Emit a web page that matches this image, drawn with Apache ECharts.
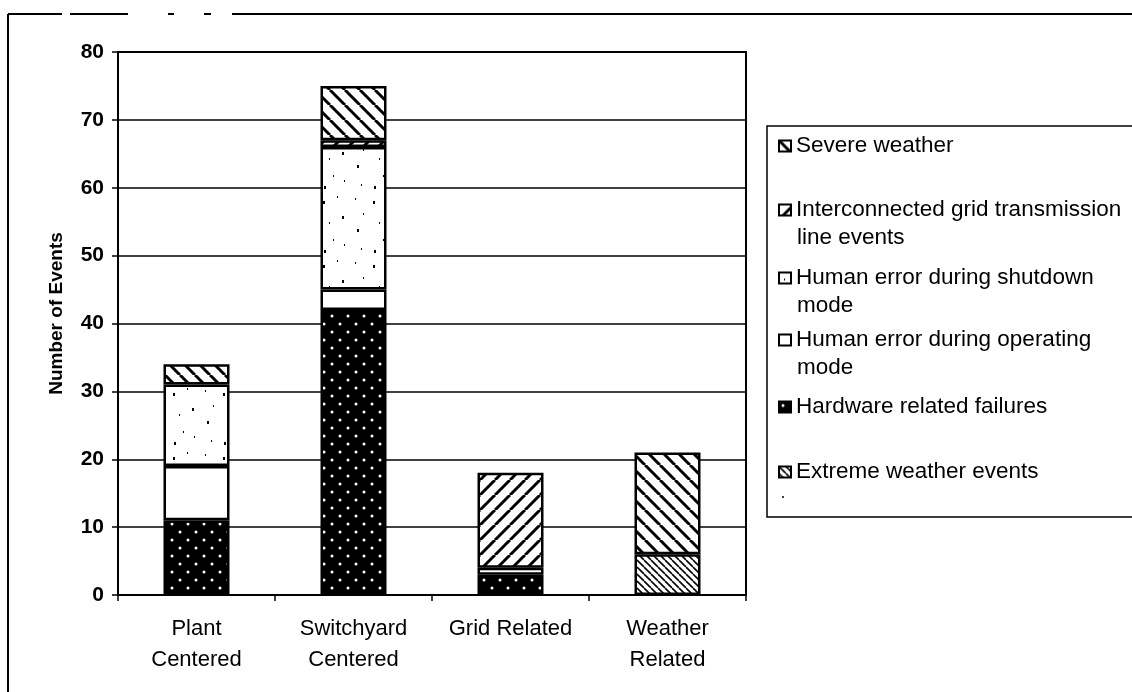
<!DOCTYPE html>
<html>
<head>
<meta charset="utf-8">
<script src="https://cdn.jsdelivr.net/npm/echarts@6/dist/echarts.min.js"></script>
<style>
  html, body { margin: 0; padding: 0; background: #fff; }
  #chart { width: 1132px; height: 692px; }
</style>
</head>
<body>
<div id="chart"></div>
<script>
// Event counts by root-cause group, stacked from the bottom up.
const categories = ['Plant\nCentered', 'Switchyard\nCentered', 'Grid Related', 'Weather\nRelated'];
const extremeWeather   = [0, 0, 0, 6];
const hardwareFailures = [11, 42, 3, 0];
const humanOperating   = [8, 3, 1, 0];
const humanShutdown    = [12, 21, 0, 0];
const gridTransmission = [0, 1, 14, 0];
const severeWeather    = [3, 8, 0, 15];
const yTickLabels = ['0', '10', '20', '30', '40', '50', '60', '70', '80'];

const FONT = '"Liberation Sans", Arial, Helvetica, sans-serif';

// ---- texture fills (monochrome print style) ----
function tile(w, h, bg) {
  const c = document.createElement('canvas');
  c.width = w; c.height = h;
  const g = c.getContext('2d');
  g.fillStyle = bg; g.fillRect(0, 0, w, h);
  return [c, g];
}
function hatch(period, lw, dir) {
  const [c, g] = tile(period, period, '#fff');
  g.strokeStyle = '#000'; g.lineWidth = lw;
  for (let k = -1; k <= 1; k++) {
    g.beginPath();
    if (dir === '/') { g.moveTo(k * period, period); g.lineTo(k * period + period, 0); }
    else { g.moveTo(k * period, 0); g.lineTo(k * period + period, period); }
    g.stroke();
  }
  return { image: c, repeat: 'repeat' };
}
function whiteDots() {
  const [c, g] = tile(16, 16, '#000');
  g.fillStyle = '#fff';
  [[4, 4], [12, 12]].forEach(([x, y]) => { g.beginPath(); g.arc(x, y, 1.5, 0, Math.PI * 2); g.fill(); });
  return { image: c, repeat: 'repeat' };
}
function specks() {
  const [c, g] = tile(50, 64, '#fff');
  g.fillStyle = '#000';
  const pts = [[5,6,1],[23,9,2],[37,4,1],[13,21,1],[42,24,2],[29,30,1],[7,37,2],[33,47,1],[44,52,1],[11,56,1],[24,58,2]];
  pts.forEach(([x, y, s]) => g.fillRect(x, y, s, s + 1));
  return { image: c, repeat: 'repeat' };
}

const fills = {
  extreme: hatch(7, 1.6, '\\'),
  hardware: whiteDots(),
  operating: '#fff',
  shutdown: specks(),
  grid: hatch(15, 3, '/'),
  severe: hatch(15, 3, '\\')
};

function bar(name, values, fill) {
  return {
    name, type: 'bar', stack: 'events',
    // empty segments are left out so they add no outline
    data: values.map(v => (v === 0 ? null : v)),
    barWidth: 66,
    itemStyle: { color: fill, borderColor: '#000', borderWidth: 2.5 },
    emphasis: { disabled: true }
  };
}

const series = [
  bar('Extreme weather events', extremeWeather, fills.extreme),
  bar('Hardware related failures', hardwareFailures, fills.hardware),
  bar('Human error during operating mode', humanOperating, fills.operating),
  bar('Human error during shutdown mode', humanShutdown, fills.shutdown),
  bar('Interconnected grid transmission line events', gridTransmission, fills.grid),
  bar('Severe weather', severeWeather, fills.severe)
];

// legend entries: first line shown with the key, continuation lines drawn beneath
const legendRows = [
  { name: 'Severe weather', first: 'Severe weather', rest: null, y: 146 },
  { name: 'Interconnected grid transmission line events', first: 'Interconnected grid transmission', rest: 'line events', y: 210 },
  { name: 'Human error during shutdown mode', first: 'Human error during shutdown', rest: 'mode', y: 278 },
  { name: 'Human error during operating mode', first: 'Human error during operating', rest: 'mode', y: 340 },
  { name: 'Hardware related failures', first: 'Hardware related failures', rest: null, y: 407 },
  { name: 'Extreme weather events', first: 'Extreme weather events', rest: null, y: 472 }
];

const legends = legendRows.map(r => ({
  data: [{ name: r.name, icon: 'rect' }],
  left: 778,
  top: r.y - 13,
  padding: 0,
  itemWidth: 12,
  itemHeight: 11,
  selectedMode: false,
  formatter: () => r.first,
  itemStyle: { borderColor: '#000', borderWidth: 2 },
  textStyle: { fontFamily: FONT, fontSize: 22.5, color: '#000', lineHeight: 26 }
}));

const graphics = [
  // outer frame
  { type: 'line', shape: { x1: 8, y1: 14, x2: 8, y2: 692 }, style: { stroke: '#000', lineWidth: 2 } },
  { type: 'line', shape: { x1: 8, y1: 14, x2: 62, y2: 14 }, style: { stroke: '#000', lineWidth: 2 } },
  { type: 'line', shape: { x1: 70, y1: 14, x2: 128, y2: 14 }, style: { stroke: '#000', lineWidth: 2 } },
  { type: 'line', shape: { x1: 168, y1: 14, x2: 174, y2: 14 }, style: { stroke: '#000', lineWidth: 2 } },
  { type: 'line', shape: { x1: 204, y1: 14, x2: 211, y2: 14 }, style: { stroke: '#000', lineWidth: 2 } },
  { type: 'line', shape: { x1: 232, y1: 14, x2: 1132, y2: 14 }, style: { stroke: '#000', lineWidth: 2 } },
  // legend box
  { type: 'rect', shape: { x: 767, y: 126, width: 400, height: 391 }, style: { fill: 'none', stroke: '#000', lineWidth: 1.5 } },
  { type: 'circle', shape: { cx: 783, cy: 497, r: 1 }, style: { fill: '#000' } }
];
legendRows.filter(r => r.rest).forEach(r => {
  graphics.push({
    type: 'text', x: 797, y: r.y + 28,
    style: { text: r.rest, font: '22.5px ' + FONT, fill: '#000', verticalAlign: 'middle', align: 'left' }
  });
});

const chart = echarts.init(document.getElementById('chart'), null, { renderer: 'canvas' });
chart.setOption({
  animation: false,
  backgroundColor: '#fff',
  grid: { left: 118, top: 52, width: 628, height: 543, show: true, borderColor: '#000', borderWidth: 2, backgroundColor: 'transparent' },
  xAxis: {
    type: 'category',
    data: categories,
    axisLine: { lineStyle: { color: '#000', width: 2 } },
    axisTick: { show: true, length: 6, lineStyle: { color: '#000', width: 1.5 } },
    axisLabel: { interval: 0, fontFamily: FONT, fontSize: 22, lineHeight: 31, margin: 18, color: '#000' },
    splitLine: { show: false }
  },
  yAxis: {
    type: 'value',
    min: 0, max: 80, interval: 10,
    name: 'Number of Events',
    nameLocation: 'middle',
    nameGap: 52,
    nameTextStyle: { fontFamily: FONT, fontSize: 19, fontWeight: 'bold', color: '#000', padding: [0, 0, 0, 20] },
    axisLine: { show: true, lineStyle: { color: '#000', width: 2 } },
    axisTick: { show: true, length: 6, lineStyle: { color: '#000', width: 1.5 } },
    axisLabel: { fontFamily: FONT, fontSize: 21, fontWeight: 'bold', color: '#000', margin: 14,
                 formatter: v => yTickLabels[Math.round(v / 10)] },
    splitLine: { show: true, lineStyle: { color: '#000', width: 1.5 } }
  },
  legend: legends,
  graphic: graphics,
  series
});
</script>
</body>
</html>
